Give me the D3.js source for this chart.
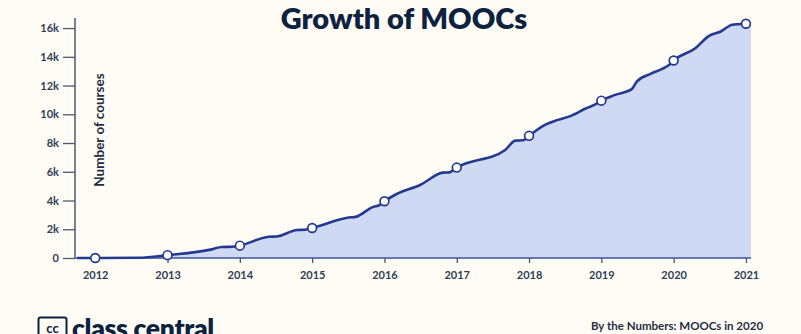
<!DOCTYPE html>
<html>
<head>
<meta charset="utf-8">
<script src="https://cdn.jsdelivr.net/npm/d3@7"></script>
<style>
  html, body { margin: 0; padding: 0; background: #fffcf5; }
  svg { display: block; }
</style>
</head>
<body>
<svg id="chart" width="801" height="334"></svg>
<script>
// ---- data (decimal year, thousands of courses) ----
const times = [2011.75, 2012, 2012.6, 2013, 2013.61, 2013.75, 2013.9, 2014,
  2014.4, 2014.51, 2014.79, 2014.9, 2015, 2015.53, 2015.6, 2015.85, 2015.92, 2016,
  2016.15, 2016.5, 2016.81, 2016.9, 2017, 2017.67, 2017.81, 2017.92, 2018,
  2018.22, 2018.4, 2018.58, 2018.79, 2018.93, 2019,
  2019.19, 2019.42, 2019.49, 2019.68, 2019.84, 2019.94, 2020,
  2020.3, 2020.49, 2020.65, 2020.81, 2020.9, 2021, 2021.07];
const courses = [0, 0, 0.02, 0.2, 0.6, 0.77, 0.78, 0.86,
  1.48, 1.5, 1.95, 1.97, 2.09, 2.83, 2.86, 3.57, 3.65, 3.95,
  4.4, 5.1, 5.94, 5.96, 6.29, 7.52, 8.17, 8.19, 8.5,
  9.26, 9.61, 9.89, 10.42, 10.72, 10.95,
  11.35, 11.75, 12.28, 12.81, 13.16, 13.44, 13.74,
  14.6, 15.46, 15.76, 16.23, 16.27, 16.3, 16.3];
const markerYears = [2012, 2013, 2014, 2015, 2016, 2017, 2018, 2019, 2020, 2021];
const yTicks = [0, 2, 4, 6, 8, 10, 12, 14, 16];
const title = "Growth of MOOCs";
const yLabel = "Number of courses";
const footerRight = "By the Numbers: MOOCs in 2020";
const brand = "class central";

const data = times.map((t, i) => ({ t, v: courses[i] }));
const markers = markerYears.map(y => data.find(d => d.t === y));

const navy = "#0d2240";
const lineCol = "#233a8f";
const areaCol = "#cfd9f4";
const axisCol = "#4a5a70";
const font = "Lato, 'Noto Sans', sans-serif";

const svg = d3.select("#chart");

const x = d3.scaleLinear().domain([2011.72, 2021.07]).range([75, 751]);
const y = d3.scaleLinear().domain([0, 16.7]).range([258, 18]);

// title
svg.append("text").attr("x", 404).attr("y", 29).attr("text-anchor", "middle")
  .attr("font-family", font).attr("font-weight", 800).attr("font-size", 29)
  .attr("fill", navy).text(title);

// area
svg.append("path").datum(data)
  .attr("fill", areaCol)
  .attr("d", d3.area().x(d => x(d.t)).y0(y(0)).y1(d => y(d.v)).curve(d3.curveMonotoneX));

// y axis
const yAxis = svg.append("g").attr("transform", "translate(75,0)")
  .call(d3.axisLeft(y).tickValues(yTicks).tickSize(12).tickPadding(4)
    .tickFormat(d => d === 0 ? "0" : d + "k"));
yAxis.select(".domain").remove();
yAxis.append("line").attr("x1", 0).attr("x2", 0).attr("y1", 18).attr("y2", 258)
  .attr("stroke", axisCol).attr("stroke-width", 1.5);
yAxis.selectAll(".tick line").attr("stroke", axisCol).attr("stroke-width", 1.3);
yAxis.selectAll(".tick text").attr("font-family", font).attr("font-weight", 700)
  .attr("font-size", 11).attr("fill", "#2e3e55");

// x axis
const xAxis = svg.append("g").attr("transform", "translate(0,258)")
  .call(d3.axisBottom(x).tickValues(markerYears).tickSize(5).tickPadding(8)
    .tickFormat(d3.format("d")));
xAxis.select(".domain").remove();
xAxis.append("line").attr("x1", 75).attr("x2", 751).attr("y1", 0).attr("y2", 0)
  .attr("stroke", "#3d52a3").attr("stroke-width", 1.5);
xAxis.selectAll(".tick line").attr("stroke", axisCol).attr("stroke-width", 1.3);
xAxis.selectAll(".tick text").attr("font-family", font).attr("font-weight", 700)
  .attr("font-size", 11).attr("fill", "#2e3e55");

// line
svg.append("path").datum(data)
  .attr("fill", "none").attr("stroke", lineCol).attr("stroke-width", 2.6)
  .attr("stroke-linejoin", "round")
  .attr("d", d3.line().x(d => x(d.t)).y(d => y(d.v)).curve(d3.curveMonotoneX));

// markers
svg.selectAll("circle.m").data(markers).enter().append("circle")
  .attr("class", "m")
  .attr("cx", d => x(d.t)).attr("cy", d => y(d.v)).attr("r", 4.4)
  .attr("fill", "#ffffff").attr("stroke", lineCol).attr("stroke-width", 1.7);

// y label
svg.append("text").attr("transform", "translate(103.5,130) rotate(-90)")
  .attr("text-anchor", "middle").attr("font-family", font).attr("font-weight", 700)
  .attr("font-size", 13.5).attr("fill", "#1f2d44").text(yLabel);

// footer logo
svg.append("rect").attr("x", 38.5).attr("y", 317.5).attr("width", 28).attr("height", 24)
  .attr("rx", 2).attr("fill", "none").attr("stroke", navy).attr("stroke-width", 2);
svg.append("text").attr("x", 52.5).attr("y", 332.5).attr("text-anchor", "middle")
  .attr("font-family", font).attr("font-weight", 700).attr("font-size", 13)
  .attr("fill", navy).text("cc");
svg.append("text").attr("x", 72).attr("y", 338).attr("font-family", font)
  .attr("font-weight", 800).attr("font-size", 26.5).attr("letter-spacing", -0.3)
  .attr("fill", navy).text(brand);

svg.append("text").attr("x", 677).attr("y", 329.5).attr("text-anchor", "middle")
  .attr("font-family", font).attr("font-weight", 700).attr("font-size", 11.5)
  .attr("fill", "#1f2d44").text(footerRight);
</script>
</body>
</html>
